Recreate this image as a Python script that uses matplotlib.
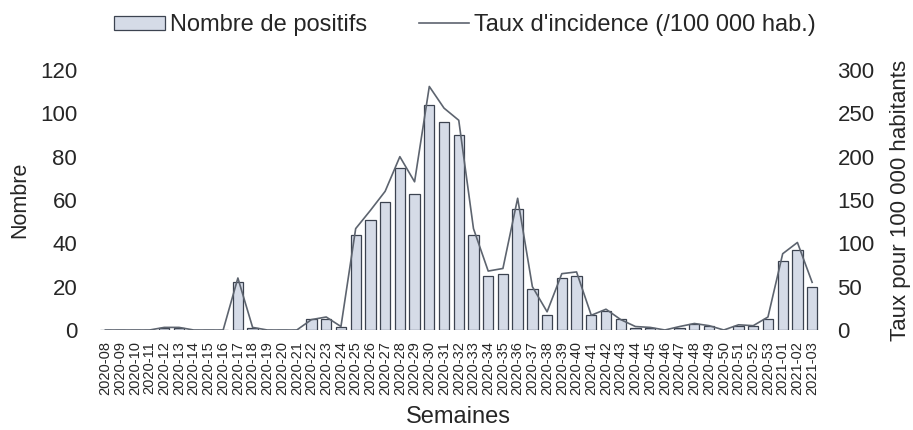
import numpy as np
import matplotlib
matplotlib.use('Agg')
import matplotlib.pyplot as plt
from matplotlib.patches import Patch
from matplotlib.lines import Line2D

plt.rcParams['font.family'] = ['Liberation Sans', 'DejaVu Sans']
plt.rcParams['text.color'] = '#262626'
plt.rcParams['axes.labelcolor'] = '#262626'
plt.rcParams['xtick.color'] = '#262626'
plt.rcParams['ytick.color'] = '#262626'

# weeks 2020-08 .. 2020-53, 2021-01 .. 2021-03
semaines = ['2020-%02d' % w for w in range(8, 54)] + ['2021-01', '2021-02', '2021-03']

# nombre de positifs par semaine (left axis)
positifs = [0, 0, 0, 0, 1, 1, 0, 0, 0, 22,
            1, 0, 0, 0, 5, 5, 1.5, 44, 51, 59,
            75, 63, 104, 96, 90, 44, 25, 26, 56, 19,
            7, 24, 25, 7, 9, 5, 1, 1, 0, 1,
            3, 2, 0, 2, 2, 5, 32, 37, 20]

# taux d'incidence /100 000 hab. (right axis)
taux = [0, 0, 0, 0, 3, 3, 0, 0, 0, 60,
        3, 0, 0, 0, 12, 15, 4, 117, 138, 160,
        200, 171, 281, 256, 242, 117, 68, 71, 152, 50,
        21, 65, 67, 17, 24, 12, 4, 3, 0, 4,
        7.5, 5, 0, 6, 5, 15, 88, 101, 55]

bar_face = '#d5dbe7'
bar_edge = '#3c4350'
line_col = '#5d646f'

fig = plt.figure(figsize=(9.13, 4.30), dpi=100)
ax = fig.add_axes([98 / 913, 1 - 330 / 430, (819.5 - 98) / 913, 260 / 430])
x = np.arange(len(semaines))
ax.bar(x, positifs, width=0.7, color=bar_face, edgecolor=bar_edge, linewidth=0.9, zorder=2)
ax.set_xlim(-0.5, len(semaines) - 0.5)
ax.set_ylim(0, 120)
ax.set_yticks(range(0, 121, 20))
ax.set_xticks(x)
ax.set_xticklabels(semaines, rotation=90, fontsize=10.5)
ax.tick_params(axis='x', length=0, pad=8)
ax.tick_params(axis='y', length=0, pad=15, labelsize=16)
for s in ax.spines.values():
    s.set_visible(False)
ax.set_ylabel('Nombre', fontsize=15.5, labelpad=7)
ax.set_xlabel('Semaines', fontsize=17, labelpad=8)

ax2 = ax.twinx()
ax2.plot(x, taux, color=line_col, linewidth=1.2, zorder=3)
ax2.set_ylim(0, 300)
ax2.set_yticks(range(0, 301, 50))
ax2.tick_params(axis='y', length=0, pad=13, labelsize=16)
for s in ax2.spines.values():
    s.set_visible(False)
ax2.set_ylabel('Taux pour 100 000 habitants', fontsize=16, labelpad=11)

handles = [Patch(facecolor=bar_face, edgecolor=bar_edge, linewidth=0.9),
           Line2D([0], [0], color=line_col, linewidth=1.2)]
fig.legend(handles, ['Nombre de positifs', "Taux d'incidence (/100 000 hab.)"],
           loc='center', bbox_to_anchor=(465 / 913, 1 - 25 / 430), ncol=2,
           frameon=False, fontsize=17, handlelength=2.15, handleheight=0.55,
           handletextpad=0.2, columnspacing=2.2)

fig.savefig('out.png', dpi=100)
